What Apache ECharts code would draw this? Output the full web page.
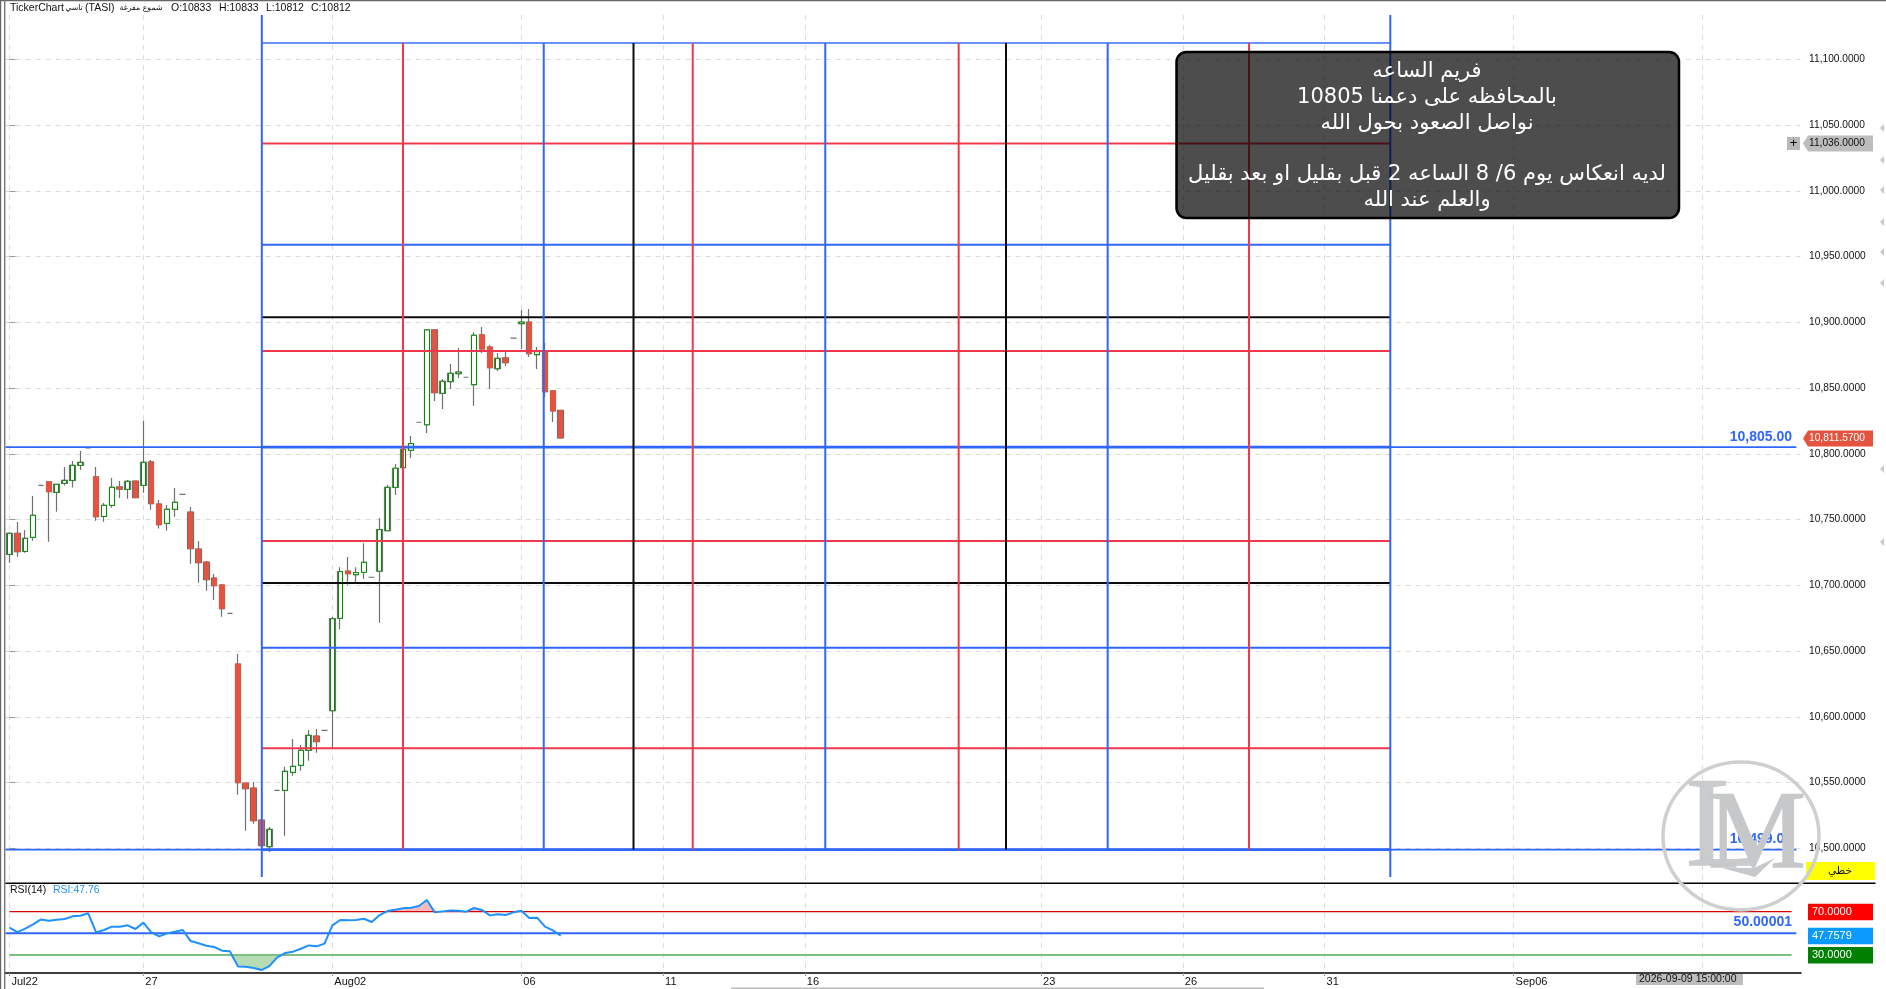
<!DOCTYPE html>
<html><head><meta charset="utf-8"><title>TASI</title>
<style>html,body{margin:0;padding:0;background:#fff}#c{width:1886px;height:989px}</style>
<script src="https://cdn.jsdelivr.net/npm/echarts@6/dist/echarts.min.js"></script>
</head><body><div id="c"></div>
<script>
// ---- data: [bar index, open, close, low, high]
const candles = [
[0,10723.5,10739.5,10717.2,10740.3],[1,10739.5,10725.6,10721.8,10748.1],[2,10725.8,10735.7,10724.8,10742.1],
[3,10736.5,10753.2,10733.9,10767.9],[4,10776,10776,10776,10776],[5,10778.6,10771.2,10733.2,10778.6],
[6,10770.7,10776.8,10756,10776.8],[7,10777.5,10779.8,10775.8,10790],[8,10779.8,10791.2,10774.3,10794.5],
[9,10791.2,10793.5,10787.7,10802.1],[10,10804.4,10804.4,10804.4,10804.4],[11,10782.4,10752.2,10749.1,10790],
[12,10752.4,10760.8,10748.4,10762.6],[13,10760.8,10774.5,10759,10781.6],[14,10774.8,10773.2,10766.4,10779.3],
[15,10773,10779.1,10765.9,10780.1],[16,10779.3,10766.6,10766.6,10779.3],[17,10776,10793.5,10770.4,10825.2],
[18,10793.8,10762.1,10757.5,10795.3],[19,10761.8,10746.1,10743.1,10764.9],[20,10747.1,10757.8,10741.5,10761],
[21,10757.8,10763.1,10752.2,10774],[22,10769.2,10769.2,10769.2,10769.2],[23,10755.7,10727.9,10716.4,10759.5],
[24,10727.6,10717.2,10702,10733.7],[25,10717.7,10704.3,10695.9,10718.5],[26,10705.5,10699.7,10688.8,10708.6],
[27,10700.2,10682.2,10676.1,10701],[28,10678.7,10678.7,10678.7,10678.7],[29,10640.1,10549.9,10540.8,10647.8],
[30,10549.6,10545.3,10513.4,10549.6],[31,10545.8,10521,10518.7,10550.4],[32,10521.5,10502,10500,10521.5],
[33,10501.2,10514.4,10497.2,10516.2],[34,10544.1,10544.1,10544.1,10544.1],[35,10544.1,10558.5,10509.6,10562.1],
[36,10557.8,10562.3,10555.2,10583.1],[37,10563.1,10574.5,10559,10578.6],[38,10574.5,10585.9,10566.6,10590],
[39,10585.4,10581.1,10572.7,10590.7],[40,10589.7,10589.7,10589.7,10589.7],[41,10604.6,10674.6,10575.7,10676.1],
[42,10674.9,10710.4,10666.5,10713.7],[43,10710.7,10708.8,10700.5,10721.5],[44,10708.1,10709.6,10702,10713.7],
[45,10709.9,10717.5,10705,10732],[46,10706.1,10706.1,10706.1,10706.1],[47,10710.7,10742.3,10671.6,10751.2],
[48,10741.5,10774.5,10741.5,10776.5],[49,10774.5,10789,10768.7,10792.3],[50,10789.4,10803.4,10789.4,10803.4],
[51,10802.7,10807.7,10796.8,10813.6],[52,10824,10824,10824,10824],[53,10822.1,10894.2,10815.8,10894.9],
[54,10894.2,10846.5,10840.2,10894.9],[55,10846,10855.1,10834.1,10856.9],[56,10854.9,10861.2,10849.3,10868.3],
[57,10860.9,10862.2,10857.7,10880.5],[58,10858.2,10858.2,10858.2,10858.2],[59,10852.6,10890.1,10836.6,10892.4],
[60,10890.4,10879.7,10876.7,10896.4],[61,10881.2,10865.5,10849.3,10882.8],[62,10864.7,10872.6,10863,10876.7],
[63,10872.9,10869.3,10866.8,10878.7],[64,10887.9,10887.9,10887.9,10887.9],[65,10899,10900.2,10879.7,10909.4],
[66,10900.2,10876.1,10873.6,10910.1],[67,10875.4,10877.7,10864.5,10881.2],[68,10878.2,10847.2,10843.2,10884.3],
[69,10847.8,10832.6,10824.2,10847.8],[70,10833,10812,10812,10833]];
const rsiValues = [55.2,51.2,54.3,58.3,62.9,61.7,62.6,63.2,65.7,66.3,68.5,50.9,53.1,56.2,56.2,57.4,54,59.9,50.9,47.2,50,51.5,53.1,
42.9,40.8,38.6,37.4,34,33.4,19.5,19.2,18,16.1,19.8,27.8,31.8,33.1,35.8,38.9,38,40.5,57.4,62.3,62,62.3,63.5,60.5,66.9,70.6,71.9,
73.1,73.7,75.2,80.8,69.4,70.3,71.2,70.9,70,73.4,71.6,66.6,67.6,66.9,69.4,70.9,64.2,64.5,56.2,52.8,47.76];
const xTickIdx = [0,17,41,65,83,101,131,149,167,191,215];
const xTickText = ['Jul22','27','Aug02','06','11','16','23','26','31','Sep06',''];
const yTicks = [10500,10550,10600,10650,10700,10750,10800,10850,10900,10950,11000,11050,11100];
const gannV = [32.04,49.97,67.84,79.24,86.76,103.59,120.53,126.54,139.45,157.4,175.34];
const gannVKind = ['b','r','b','k','r','b','r','k','b','r','b'];
const gannH = [11112.4,11036,10959,10903.8,10878.2,10805,10733.7,10701.7,10652.5,10576,10499];
const gannHKind = ['t','r','b','k','r','b','r','k','b','r','b'];
const lastPrice = 10811.57, crossPrice = 11036, supportTop = 10805, supportLow = 10499;
const rsiUpper = 70, rsiMid = 50.00001, rsiLower = 30, rsiLast = 47.7579;
const noteLines = ['فريم الساعه','بالمحافظه على دعمنا 10805','نواصل الصعود بحول الله','','لديه انعكاس يوم 6/ 8 الساعه 2 قبل بقليل او بعد بقليل','والعلم عند الله'];

// ---- layout and styles
const FONT = '"Liberation Sans","DejaVu Sans",sans-serif';
const AR = '"DejaVu Sans","Liberation Sans",sans-serif';
const C = {b:'#2f66fb', r:'#f0384c', k:'#0c0c0c', t:'#6a92f7'};
const xMin=-0.5, xMax=227.5, left=5.56, gridW=1795.5;
const yTop=11133.7, yBottom=10473.6, rsiTop=96.5, rsiBottom=13.4;
const xRight=226.9, rsiRight=226.3;
const up='#008c00', down='#e5533f', wick='#707070';

const el = document.getElementById('c');
const chart = echarts.init(el,null,{renderer:'canvas',width:1886,height:989});

function rule(pts,color,width,g){
  return {type:'line',data:pts,xAxisIndex:g||0,yAxisIndex:g||0,symbol:'none',silent:true,z:6,animation:false,
    lineStyle:{color:color,width:width,cap:'butt'}};
}
const series = [];
// wicks and flat bars
series.push({type:'candlestick',data:candles,barWidth:6,silent:true,z:3,
  itemStyle:{color:'rgba(0,0,0,0)',color0:'rgba(0,0,0,0)',borderColor:wick,borderColor0:wick,borderColorDoji:wick,borderWidth:1.2}});
// bodies
series.push({type:'candlestick',barWidth:4.8,silent:true,z:4,
  data:candles.filter(d=>d[1]!==d[2]).map(d=>[d[0],d[1],d[2],Math.min(d[1],d[2]),Math.max(d[1],d[2])]),
  itemStyle:{color:'#ffffff',color0:down,borderColor:up,borderColor0:down,borderWidth:1}});
// gann grid
gannH.forEach((v,i)=>{
  const full = v===supportTop||v===supportLow;
  if(full) series.push(rule([[xMin,v],[xRight,v]],C[gannHKind[i]],1.8));
  series.push(rule([[gannV[0],v],[gannV[gannV.length-1],v]],C[gannHKind[i]],full?2.8:2));
});
gannV.forEach((x,i)=>{
  const edge = i===0||i===gannV.length-1;
  series.push(rule([[x,edge?yTop:gannH[0]],[x,edge?10478.2:supportLow]],C[gannVKind[i]],2));
});
// RSI
const rsiPts = rsiValues.map((v,i)=>[i,v]);
series.push(Object.assign(rule(rsiValues.map((v,i)=>[i,Math.min(v,rsiLower)]),'rgba(0,0,0,0)',0,1),{areaStyle:{origin:rsiLower,color:'#b6dcb3',opacity:1},z:3}));
series.push(Object.assign(rule(rsiValues.map((v,i)=>[i,Math.max(v,rsiUpper)]),'rgba(0,0,0,0)',0,1),{areaStyle:{origin:rsiUpper,color:'#f9bcbc',opacity:1},z:3}));
series.push(rule([[0,rsiUpper],[rsiRight,rsiUpper]],'#d80000',1.2,1));
series.push(rule([[0,rsiLower],[rsiRight,rsiLower]],'#7fbf80',2.2,1));
series.push(rule([[xMin,rsiMid],[xRight,rsiMid]],C.b,2,1));
series.push(Object.assign(rule(rsiPts,'#1e90ff',2,1),{z:7}));

const dash = {lineStyle:{color:'#dcdcdc',type:[5,5],width:1}};
chart.setOption({
  animation:false, backgroundColor:'#fff',
  grid:[{left:left,top:15,width:gridW,height:868},{left:left,top:883,width:gridW,height:90}],
  xAxis:[
    {type:'value',gridIndex:0,min:xMin,max:xMax,axisLine:{show:false},
      axisTick:{show:false,customValues:xTickIdx},axisLabel:{show:false,customValues:xTickIdx},splitLine:Object.assign({show:true},dash)},
    {type:'value',gridIndex:1,min:xMin,max:xMax,axisLine:{show:true,lineStyle:{color:'#000',width:1.5}},
      axisTick:{show:true,length:3,lineStyle:{color:'#999'},customValues:xTickIdx},
      axisLabel:{show:true,customValues:xTickIdx,margin:3,align:'left',padding:[0,0,0,2],color:'#111',fontSize:11,fontFamily:FONT,showMinLabel:true,showMaxLabel:true,hideOverlap:false,
        formatter:v=>{const k=xTickIdx.indexOf(v);return k<0?'':xTickText[k];}},
      splitLine:Object.assign({show:true},dash)}
  ],
  yAxis:[
    {type:'value',gridIndex:0,position:'right',min:yBottom,max:yTop,scale:true,axisLine:{show:false},
      axisTick:{show:true,length:6,lineStyle:{color:'#999'},customValues:yTicks},
      axisLabel:{show:true,customValues:yTicks,margin:8,color:'#111',fontSize:10.2,fontFamily:FONT,hideOverlap:false,
        formatter:v=>v.toLocaleString('en-US',{minimumFractionDigits:4,maximumFractionDigits:4})},
      splitLine:Object.assign({show:true},dash)},
    {type:'value',gridIndex:1,position:'right',min:rsiBottom,max:rsiTop,axisLine:{show:false},axisTick:{show:false},axisLabel:{show:false},splitLine:{show:false}}
  ],
  series:series
});

// ---- annotations placed from data values through the chart's scales
const py=(g,v)=>chart.convertToPixel({gridIndex:g},[0,v])[1];
function txt(x,y,t,o){return {type:'text',z:120,silent:true,x:x,y:y,style:Object.assign({text:t,fill:'#111',font:'10.5px '+FONT,textAlign:'left',textVerticalAlign:'middle'},o||{})};}
function rect(x,y,w,h,fill,o){return Object.assign({type:'rect',z:110,silent:true,shape:{x:x,y:y,width:w,height:h},style:{fill:fill}},o||{});}
function tag(g,v,t,fill,fg){const y=py(g,v);return [
  {type:'polygon',z:110,silent:true,shape:{points:[[1803,y],[1808,y-8],[1873,y-8],[1873,y+8],[1808,y+8]]},style:{fill:fill}},
  txt(1809,y,t,{fill:fg,font:'10.2px '+FONT})];}
function boxTag(g,v,t,fill){const y=py(g,v);return [rect(1808,y-8,65,16.5,fill),txt(1812,y,t,{fill:'#fff',font:'11px '+FONT})];}
const g=[];
// frame
g.push(rect(0,0,1886,1.2,'#666'),rect(0,0,1.2,989,'#666'),rect(4,0,1.4,989,'#777'));
g.push(rect(5.5,882.5,1870,1.4,'#000'));
// header
[[10,'TickerChart'],[85,'(TASI)'],[171,'O:10833'],[219,'H:10833'],[266,'L:10812'],[311,'C:10812']]
 .forEach(a=>g.push(txt(a[0],8,a[1])));
[[74,'تاسي'],[141,'شموع مفرغة']].forEach(a=>g.push(txt(a[0],8,a[1],{font:'7.8px '+AR,textAlign:'center'})));
g.push(txt(10,890,'RSI(14)'),txt(53,890,'RSI:47.76',{fill:'#2196f3'}));
// note box
g.push({type:'rect',z:100,silent:true,shape:{x:1176.5,y:52,width:502.5,height:166,r:10},style:{fill:'#4d4d4d',stroke:'#000',lineWidth:2.5,blend:'multiply'}});
const noteY=[72,98,124,149,174.5,200.5];
noteLines.forEach((t,i)=>{if(t)g.push(txt(1427,noteY[i],t,{fill:'#fff',font:'21px '+AR,textAlign:'center'}));});
// value labels
g.push(txt(1792,py(0,supportTop)-10,'10,805.00',{fill:C.b,font:'bold 14px '+FONT,textAlign:'right'}));
g.push(txt(1792,py(0,supportLow)-10,'10,499.00',{fill:C.b,font:'bold 14px '+FONT,textAlign:'right'}));
g.push(txt(1792,py(1,rsiMid)-11,'50.00001',{fill:C.b,font:'bold 14px '+FONT,textAlign:'right'}));
// watermark
g.push({type:'ellipse',z:115,silent:true,shape:{cx:1741,cy:836,rx:78,ry:74},style:{fill:'none',stroke:'#cdcfd1',lineWidth:3.5}});
g.push(txt(1686,831,'L',{fill:'#c9cbcd',stroke:'#c9cbcd',lineWidth:1.5,font:'128px "Liberation Serif",serif'}));
g.push(txt(1708,838,'M',{fill:'#c6c8ca',stroke:'#c6c8ca',lineWidth:1.5,font:'110px "Liberation Serif",serif'}));
g.push({type:'polygon',z:116,silent:true,shape:{points:[[1722,868],[1755,877],[1775,858],[1754,868]]},style:{fill:'#c6c8ca'}});
// right tags
g.push(...tag(0,lastPrice,'10,811.5700',down,'#fff'));
g.push(...tag(0,crossPrice,'11,036.0000','#bdbdbd','#111'));
const cy=py(0,crossPrice);
g.push(rect(1787,cy-6.5,13,13,'#b8b8b8'),txt(1793.5,cy,'+',{fill:'#000',font:'13px '+FONT,textAlign:'center'}));
g.push(rect(1806,862,69,18,'#ffff00'),txt(1840,871,'خطي',{font:'10.5px '+AR,textAlign:'center'}));
g.push(...boxTag(1,rsiUpper,'70.0000','#ff0000'),...boxTag(1,rsiLast,'47.7579','#0a99ff'),...boxTag(1,rsiLower,'30.0000','#008000'));
// cursor time label and scrollbar
g.push(rect(1636,974,107,11,'#bdbdbd'),txt(1639,979.5,'2026-09-09 15:00:00',{font:'10.5px '+FONT}));
g.push(rect(731,987.5,533,1.5,'#bbb'));
// edge arrows
[128,160,190,222,252,283,469,542].forEach(y=>g.push({type:'polygon',z:110,silent:true,shape:{points:[[1880,y],[1884,y-4],[1884,y+4]]},style:{fill:'#c8c8c8'}}));
chart.setOption({graphic:g});
</script></body></html>
